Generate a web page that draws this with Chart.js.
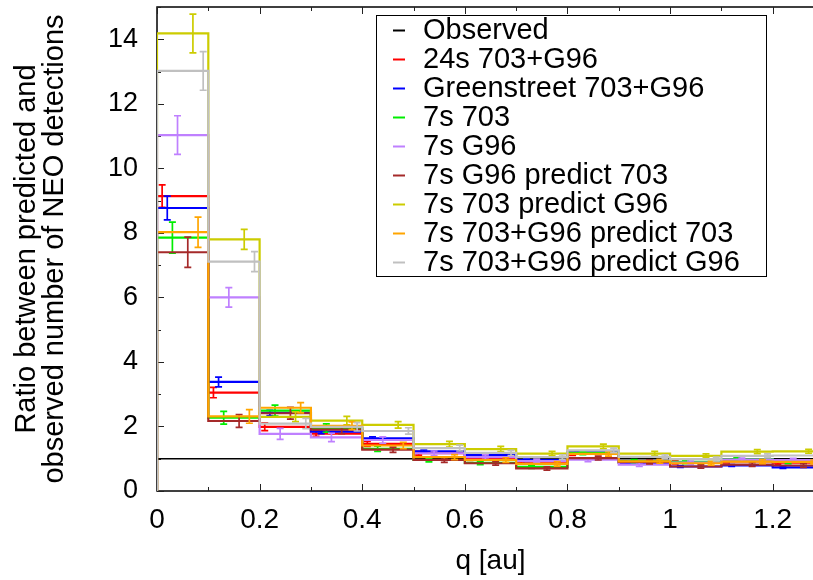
<!DOCTYPE html>
<html>
<head>
<meta charset="utf-8">
<script src="https://cdn.jsdelivr.net/npm/chart.js@4.4.1/dist/chart.umd.min.js"></script>
<style>
  html, body { margin: 0; padding: 0; background: #fff; overflow: hidden; }
  #wrap { width: 830px; height: 580px; position: relative; }
</style>
</head>
<body>
<div id="wrap"><canvas id="chart"></canvas></div>
<script>
// q bins (left edges, width 0.1 au)
const binStarts = [0, 0.1, 0.2, 0.3, 0.4, 0.5, 0.6, 0.7, 0.8, 0.9, 1.0, 1.1, 1.2];
const binWidth = 0.1;

const xTicks = [0, 0.2, 0.4, 0.6, 0.8, 1, 1.2];
const yTicks = [0, 2, 4, 6, 8, 10, 12, 14];

const seriesNames = [
    'Observed',
    '24s 703+G96',
    'Greenstreet 703+G96',
    '7s 703',
    '7s G96',
    '7s G96 predict 703',
    '7s 703 predict G96',
    '7s 703+G96 predict 703',
    '7s 703+G96 predict G96'
];

const observed = [1, 1, 1, 1, 1, 1, 1, 1, 1, 1, 1, 1, 1];

const red24s      = [9.14, 3.05, 1.99, 1.78, 1.46, 1.17, 1.01, 0.91, 1.15, 0.88, 0.89, 0.92, 0.88];
const red24sErr   = [0.35, 0.16, 0.12, 0.09, 0.08, 0.06, 0.06, 0.05, 0.05, 0.05, 0.05, 0.05, 0.05];
const greenstreet    = [8.77, 3.38, 2.42, 1.84, 1.63, 1.23, 1.11, 0.96, 1.20, 0.88, 0.76, 0.79, 0.73];
const greenstreetErr = [0.37, 0.15, 0.08, 0.06, 0.05, 0.04, 0.04, 0.04, 0.04, 0.03, 0.03, 0.03, 0.03];
const s7_703      = [7.85, 2.27, 2.49, 1.95, 1.31, 0.96, 0.87, 0.75, 1.18, 0.92, 0.90, 0.98, 0.90];
const s7_703Err   = [0.48, 0.20, 0.17, 0.13, 0.08, 0.06, 0.05, 0.05, 0.05, 0.05, 0.05, 0.05, 0.05];
const s7_G96      = [11.03, 6.00, 1.77, 1.66, 1.58, 1.17, 1.05, 0.93, 0.97, 0.82, 0.88, 0.97, 0.96];
const s7_G96Err   = [0.60, 0.30, 0.17, 0.13, 0.10, 0.07, 0.07, 0.06, 0.06, 0.06, 0.05, 0.05, 0.05];
const g96p703     = [7.40, 2.17, 2.41, 1.90, 1.28, 0.96, 0.86, 0.70, 1.02, 0.90, 0.76, 0.82, 0.79];
const g96p703Err  = [0.47, 0.20, 0.18, 0.12, 0.08, 0.07, 0.06, 0.05, 0.06, 0.06, 0.05, 0.06, 0.06];
const p703G96     = [14.18, 7.80, 2.30, 2.18, 2.05, 1.45, 1.30, 1.16, 1.38, 1.16, 1.09, 1.22, 1.23];
const p703G96Err  = [0.60, 0.31, 0.15, 0.13, 0.10, 0.09, 0.08, 0.07, 0.07, 0.07, 0.06, 0.06, 0.06];
const both703     = [8.02, 2.31, 2.58, 2.02, 1.41, 1.05, 0.96, 0.84, 1.15, 0.92, 0.86, 0.91, 0.90];
const both703Err  = [0.47, 0.21, 0.16, 0.12, 0.10, 0.08, 0.07, 0.07, 0.07, 0.06, 0.06, 0.06, 0.06];
const bothG96     = [13.02, 7.11, 2.09, 1.99, 1.86, 1.33, 1.18, 1.05, 1.26, 1.06, 0.99, 1.09, 1.10];
const bothG96Err  = [0.60, 0.31, 0.16, 0.13, 0.10, 0.09, 0.08, 0.07, 0.07, 0.06, 0.06, 0.06, 0.06];

// error bar x-position inside each bin, per series
const errOffsets = [null, 0.01, 0.02, 0.03, 0.04, 0.06, 0.07, 0.08, 0.09];

const values = [observed, red24s, greenstreet, s7_703, s7_G96, g96p703, p703G96, both703, bothG96];
const errors = [null, red24sErr, greenstreetErr, s7_703Err, s7_G96Err, g96p703Err, p703G96Err, both703Err, bothG96Err];
const colors = ['#000000', '#ff0000', '#0000ff', '#00ee00', '#bf80ff', '#a52a2a', '#cccc00', '#ffa500', '#c0c0c0'];

function stepPoints(vals) {
    const pts = [{ x: binStarts[0], y: 0 }];
    vals.forEach((v, i) => pts.push({ x: binStarts[i], y: v }));
    pts.push({ x: binStarts[binStarts.length - 1] + binWidth, y: vals[vals.length - 1] });
    return pts;
}

const datasets = seriesNames.map((name, i) => ({
    label: name,
    data: stepPoints(values[i]),
    stepped: 'before',
    borderColor: colors[i],
    borderWidth: i === 0 ? 1.5 : 2.2,
    pointRadius: 0,
    fill: false,
    order: seriesNames.length - i,
    err: errors[i],
    errOffset: errOffsets[i],
    vals: values[i]
}));

const FONT = "'Liberation Sans', Arial, sans-serif";

// axis frame and inward ticks, drawn under the data
const framePlugin = {
    id: 'frame',
    beforeDatasetsDraw(chart) {
        const { ctx, chartArea: a, scales: { x, y } } = chart;
        ctx.save();
        ctx.strokeStyle = '#000';
        ctx.lineWidth = 1.5;
        ctx.strokeRect(a.left, a.top, a.right - a.left, a.bottom - a.top);
        ctx.lineWidth = 1;
        ctx.strokeStyle = '#222';
        ctx.beginPath();
        const yStep = yTicks[1] - yTicks[0];
        yTicks.forEach(v => {
            [[v, 7], [v + yStep / 2, 4]].forEach(([t, len]) => {
                if (t > y.max) return;
                const py = Math.round(y.getPixelForValue(t)) + 0.5;
                ctx.moveTo(a.left, py); ctx.lineTo(a.left + len, py);
                ctx.moveTo(a.right, py); ctx.lineTo(a.right - len, py);
            });
        });
        const xStep = xTicks[1] - xTicks[0];
        xTicks.forEach(v => {
            [[v, 7], [v + xStep / 2, 4]].forEach(([t, len]) => {
                if (t > x.max + 1e-9) return;
                const px = Math.round(x.getPixelForValue(t)) + 0.5;
                ctx.moveTo(px, a.bottom); ctx.lineTo(px, a.bottom - len);
                ctx.moveTo(px, a.top); ctx.lineTo(px, a.top + len);
            });
        });
        ctx.stroke();
        ctx.restore();
    }
};

// error bars right after each series' line
const errorBarPlugin = {
    id: 'errbars',
    afterDatasetDraw(chart, args) {
        const ds = chart.data.datasets[args.index];
        if (!ds.err) return;
        const { ctx, chartArea: a, scales: { x, y } } = chart;
        ctx.save();
        ctx.beginPath();
        ctx.rect(a.left, a.top, a.right - a.left, a.bottom - a.top);
        ctx.clip();
        ctx.strokeStyle = ds.borderColor;
        ctx.lineWidth = 1.7;
        ctx.beginPath();
        ds.vals.forEach((v, i) => {
            const px = x.getPixelForValue(binStarts[i] + ds.errOffset);
            const lo = y.getPixelForValue(v - ds.err[i]);
            const hi = y.getPixelForValue(v + ds.err[i]);
            ctx.moveTo(px, lo); ctx.lineTo(px, hi);
            ctx.moveTo(px - 3.5, lo); ctx.lineTo(px + 3.5, lo);
            ctx.moveTo(px - 3.5, hi); ctx.lineTo(px + 3.5, hi);
        });
        ctx.stroke();
        ctx.restore();
    }
};

// gnuplot-style boxed key inside the plot
const keyPlugin = {
    id: 'key',
    afterDraw(chart) {
        const ctx = chart.ctx;
        const box = { left: 376, top: 15, right: 766, bottom: 276 };
        const rowH = (box.bottom - box.top) / seriesNames.length;
        ctx.save();
        ctx.strokeStyle = '#000';
        ctx.lineWidth = 1;
        ctx.strokeRect(box.left + 0.5, box.top + 0.5, box.right - box.left, box.bottom - box.top);
        ctx.font = '29px ' + FONT;
        ctx.textBaseline = 'middle';
        ctx.fillStyle = '#000';
        seriesNames.forEach((name, i) => {
            const cy = box.top + rowH * (i + 0.5);
            ctx.strokeStyle = colors[i];
            ctx.lineWidth = 2;
            ctx.beginPath();
            ctx.moveTo(393, Math.round(cy) + 0.5);
            ctx.lineTo(405, Math.round(cy) + 0.5);
            ctx.stroke();
            ctx.fillText(name, 423, cy + 1);
        });
        ctx.restore();
    }
};

function noPad(s) {
    s.paddingTop = 0;
    s.paddingBottom = 0;
    s.paddingLeft = 0;
    s.paddingRight = 0;
}

Chart.defaults.font.family = FONT;
Chart.defaults.color = '#000';

new Chart(document.getElementById('chart'), {
    type: 'line',
    data: { datasets },
    options: {
        responsive: true,
        maintainAspectRatio: false,
        animation: false,
        layout: { padding: { top: 7, right: 6, left: 0, bottom: 0 } },
        plugins: { legend: { display: false }, tooltip: { enabled: false } },
        scales: {
            x: {
                type: 'linear',
                min: 0,
                max: 1.3,
                grid: { display: false, drawTicks: false },
                border: { display: false },
                afterBuildTicks: s => { s.ticks = xTicks.map(v => ({ value: v })); },
                afterFit: s => { s.height = 89; noPad(s); },
                ticks: {
                    autoSkip: false,
                    maxRotation: 0,
                    padding: 12,
                    font: { size: 28 },
                    callback: v => String(Number(v.toFixed(1)))
                },
                title: {
                    display: true,
                    text: 'q [au]',
                    font: { size: 28 },
                    padding: { top: 0, bottom: 2 }
                }
            },
            y: {
                min: 0,
                max: 15,
                grid: { display: false, drawTicks: false },
                border: { display: false },
                afterBuildTicks: s => { s.ticks = yTicks.map(v => ({ value: v })); },
                afterFit: s => { s.width = 157; noPad(s); },
                ticks: { padding: 19, font: { size: 27 } },
                title: {
                    display: true,
                    text: ['Ratio between predicted and', 'observed number of NEO detections'],
                    font: { size: 29, lineHeight: 0.97 },
                    padding: { top: 13, bottom: 0 }
                }
            }
        }
    },
    plugins: [framePlugin, errorBarPlugin, keyPlugin]
});
</script>
</body>
</html>
